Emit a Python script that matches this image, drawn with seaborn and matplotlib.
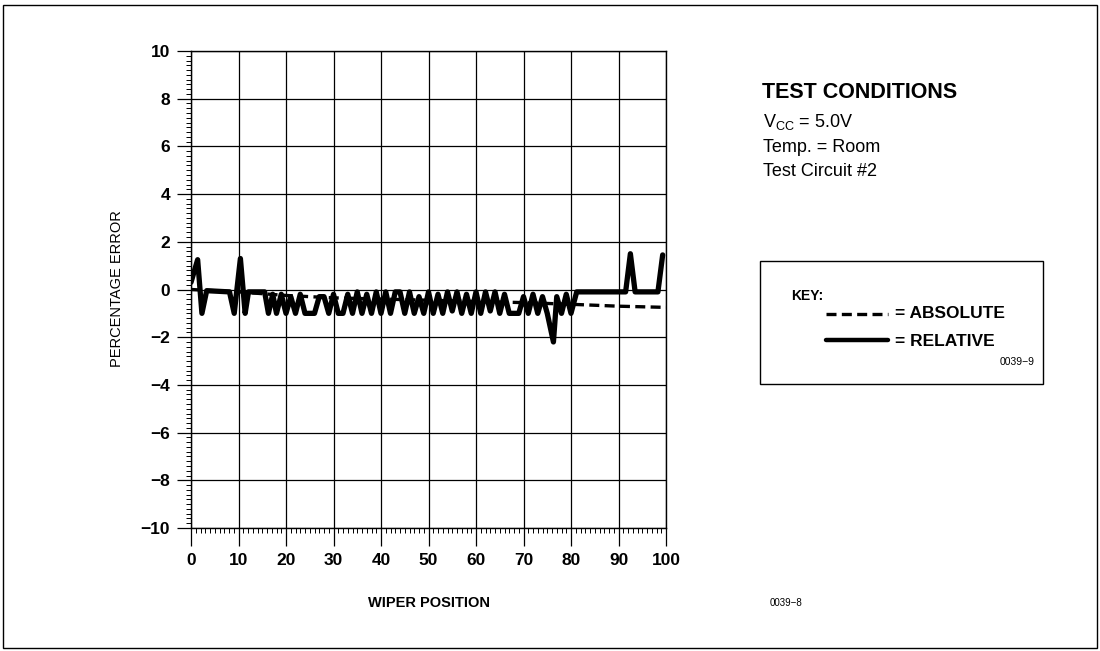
import matplotlib
matplotlib.use("Agg")
import matplotlib.pyplot as plt
import seaborn as sns
import pandas as pd
from matplotlib.patches import Rectangle
from matplotlib.lines import Line2D
from matplotlib.ticker import MultipleLocator

# relatieve fout (dikke lijn)
rel_pos = [0, 1.4, 2.3, 3.3, 8.1, 9.1, 10.4, 11.4, 12.1, 15.5, 16.3, 17.2, 18.0, 19.0, 20.0, 21.0,
           22.0, 23.0, 24.0, 26.0, 27.0, 28.0, 29.0, 30.0, 31.0, 32.0, 33.0, 34.0, 35.0, 36.0,
           37.0, 38.0, 39.0, 40.0, 41.0, 42.0, 43.0, 44.0, 45.0, 46.0, 47.0, 48.0, 49.0, 50.0,
           51.0, 52.0, 53.0, 54.0, 55.0, 56.0, 57.0, 58.0, 59.0, 60.0, 61.0, 62.0, 63.0, 64.0,
           65.0, 66.0, 67.0, 69.0, 70.0, 71.0, 72.0, 73.0, 74.0, 75.0, 76.3, 77.0, 78.0, 79.0,
           80.0, 81.2, 91.5, 92.5, 93.5, 98.3, 99.3]
rel_err = [0.3, 1.25, -1.0, -0.05, -0.1, -1.0, 1.3, -1.0, -0.1, -0.1, -1.0, -0.2, -1.0, -0.2, -1.0, -0.3,
           -1.0, -0.2, -1.0, -1.0, -0.3, -0.3, -1.0, -0.2, -1.0, -1.0, -0.2, -1.0, -0.1, -1.0,
           -0.2, -1.0, -0.1, -1.0, -0.1, -1.0, -0.1, -0.1, -1.0, -0.1, -1.0, -0.3, -1.0, -0.1,
           -1.0, -0.2, -1.0, -0.1, -0.9, -0.1, -1.0, -0.2, -1.0, -0.1, -1.0, -0.1, -0.9, -0.1,
           -1.0, -0.2, -1.0, -1.0, -0.3, -1.0, -0.2, -1.0, -0.3, -1.0, -2.2, -0.3, -1.0, -0.2,
           -1.0, -0.1, -0.1, 1.5, -0.1, -0.1, 1.45]

# absolute fout (stippellijn)
abs_pos = [0, 10, 20, 30, 40, 50, 60, 70, 80, 90, 100]
abs_err = [0.0, -0.1, -0.25, -0.35, -0.4, -0.45, -0.5, -0.55, -0.62, -0.7, -0.75]

x_ticks = list(range(0, 101, 10))
y_ticks = list(range(-10, 11, 2))

rel_df = pd.DataFrame({"pos": rel_pos, "err": rel_err})
abs_df = pd.DataFrame({"pos": abs_pos, "err": abs_err})

sns.set_style("white")
plt.rcParams["font.family"] = ["Liberation Sans", "DejaVu Sans"]
plt.rcParams["text.color"] = "black"
plt.rcParams["axes.labelcolor"] = "black"
plt.rcParams["xtick.color"] = "black"
plt.rcParams["ytick.color"] = "black"

W, H = 1100, 651
fig = plt.figure(figsize=(11, 6.51), dpi=100)
ax = fig.add_axes([191 / W, 1 - 528 / H, 475 / W, 477 / H])

def fx(px):
    return px / W

def fy(py):
    return 1 - py / H

dash = (0, (3, 1.6))

sns.lineplot(data=abs_df, x="pos", y="err", ax=ax, color="black", lw=2.4,
             linestyle=dash, estimator=None, sort=False)
sns.lineplot(data=rel_df, x="pos", y="err", ax=ax, color="black", lw=3.8,
             estimator=None, sort=False)

ax.set_xlim(0, 100)
ax.set_ylim(-10, 10)
ax.set_xticks(x_ticks)
ax.set_yticks(y_ticks)
ax.set_yticklabels([str(v).replace("-", "\u2212") for v in y_ticks])
ax.xaxis.set_minor_locator(MultipleLocator(1))
ax.yaxis.set_minor_locator(MultipleLocator(0.2))
ax.grid(True, which="major", color="black", lw=0.9)
for s in ax.spines.values():
    s.set_color("black")
    s.set_linewidth(1.0)
ax.tick_params(which="both", bottom=True, left=True, top=False, right=False)
ax.tick_params(which="major", direction="out", length=10, width=0.9, color="black",
               labelsize=12.5, pad=5, labelcolor="black")
ax.tick_params(which="minor", direction="out", length=3.5, width=0.7, color="black")
ax.tick_params(axis="x", which="major", length=13, pad=5)
for lab in ax.get_xticklabels() + ax.get_yticklabels():
    lab.set_fontweight("bold")
ax.set_xlabel("")
ax.set_ylabel("")

fig.text(fx(117), fy(289), "PERCENTAGE ERROR", rotation=90, ha="center", va="center", fontsize=10.5)
fig.text(fx(429), fy(603), "WIPER POSITION", ha="center", va="center", fontsize=10.5, fontweight="bold")
fig.text(fx(770), fy(603), "0039\u22128", ha="left", va="center", fontsize=7)

fig.text(fx(762), fy(93), "TEST CONDITIONS", ha="left", va="center", fontsize=15.5, fontweight="bold")
fig.text(fx(763), fy(122), r"V$_{\mathregular{CC}}$ = 5.0V", ha="left", va="center", fontsize=13)
fig.text(fx(763), fy(147), "Temp. = Room", ha="left", va="center", fontsize=13)
fig.text(fx(763), fy(172), "Test Circuit #2", ha="left", va="center", fontsize=13)

# key box
fig.patches.append(Rectangle((fx(760), fy(384)), (1043 - 760) / W, (384 - 261) / H,
                             transform=fig.transFigure, fill=False, ec="black", lw=1.0))
fig.text(fx(791), fy(296), "KEY:", ha="left", va="center", fontsize=10, fontweight="bold")
fig.lines.append(Line2D([fx(826), fx(888)], [fy(314), fy(314)], transform=fig.transFigure,
                        color="black", lw=2.4, linestyle=dash))
fig.text(fx(895), fy(314), "= ABSOLUTE", ha="left", va="center", fontsize=12.5, fontweight="bold")
fig.lines.append(Line2D([fx(826), fx(888)], [fy(340), fy(340)], transform=fig.transFigure,
                        color="black", lw=3.2))
fig.text(fx(895), fy(341), "= RELATIVE", ha="left", va="center", fontsize=12.5, fontweight="bold")
fig.text(fx(1000), fy(362), "0039\u22129", ha="left", va="center", fontsize=7.5)

# rand om de hele figuur
fig.patches.append(Rectangle((fx(3), fy(648)), (1097 - 3) / W, (648 - 5) / H,
                             transform=fig.transFigure, fill=False, ec="black", lw=1.0))

fig.savefig("out.png", dpi=100)
